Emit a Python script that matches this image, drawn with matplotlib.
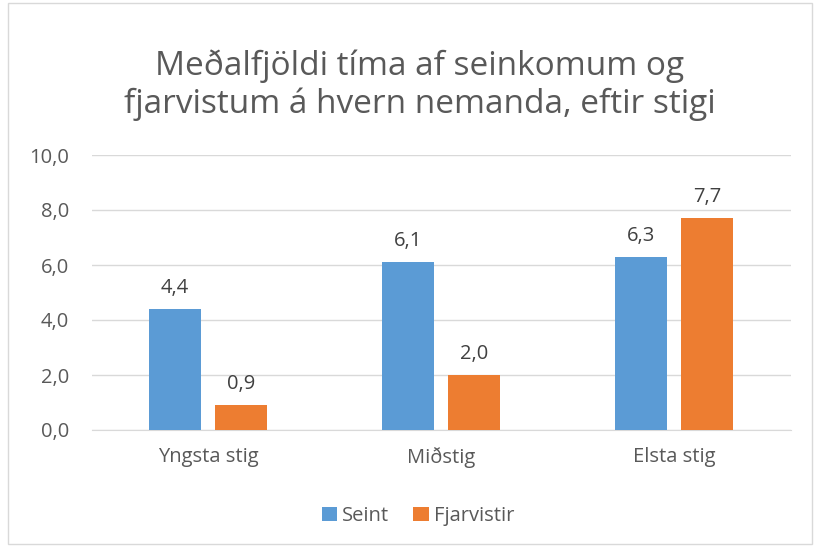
import matplotlib
matplotlib.use("Agg")
import matplotlib.pyplot as plt
import numpy as np
from matplotlib.patches import Rectangle

categories = ["Yngsta stig", "Miðstig", "Elsta stig"]
seint = [4.4, 6.1, 6.3]
fjarvistir = [0.9, 2.0, 7.7]
series_names = ["Seint", "Fjarvistir"]
yticks = [0, 2, 4, 6, 8, 10]

plt.rcParams['font.family'] = ['Open Sans', 'DejaVu Sans']
txt = '#595959'
blue = '#5B9BD5'
orange = '#ED7D31'
fs = 14.5

W, H = 817, 548
fig = plt.figure(figsize=(W/100, H/100), dpi=100)
fig.patches.append(Rectangle((8/W, 4/H), 804/W, 541/H, transform=fig.transFigure,
                             fill=False, edgecolor='#D9D9D9', linewidth=1))

ax = fig.add_axes([91.5/W, 1 - 430/H, 699/W, 275/H])
x = np.arange(len(categories))
bw = 0.223
off = 0.142
b1 = ax.bar(x - off, seint, bw, color=blue, label=series_names[0], zorder=3)
b2 = ax.bar(x + off, fjarvistir, bw, color=orange, label=series_names[1], zorder=3)
for bars, vals in ((b1, seint), (b2, fjarvistir)):
    for r, v in zip(bars, vals):
        ax.annotate(f"{v:.1f}".replace('.', ','), (r.get_x() + r.get_width()/2, v),
                    xytext=(0, 8), textcoords='offset points', ha='center', va='bottom',
                    fontsize=fs, color='#404040')

ax.set_xlim(-0.5, 2.5)
ax.set_ylim(0, 10)
ax.set_yticks(yticks)
ax.set_yticklabels([f"{v:.1f}".replace('.', ',') for v in yticks], fontsize=fs, color=txt)
ax.set_xticks(x)
ax.set_xticklabels(categories, fontsize=fs, color=txt)
ax.tick_params(axis='both', length=0)
ax.tick_params(axis='x', pad=12)
ax.tick_params(axis='y', pad=16)
ax.grid(axis='y', color='#D9D9D9', linewidth=1, zorder=0)
for s in ['top', 'right', 'left']:
    ax.spines[s].set_visible(False)
ax.spines['bottom'].set_color('#D9D9D9')

fig.text(420/W, 1 - 85/H, "Meðalfjöldi tíma af seinkomum og\nfjarvistum á hvern nemanda, eftir stigi",
         ha='center', va='center', fontsize=24, color=txt, linespacing=1.2)

fig.legend(handles=[b1, b2], labels=series_names, loc='center', bbox_to_anchor=(418/W, 1 - 516/H),
           ncol=2, frameon=False, fontsize=fs, labelcolor=txt, handlelength=0.75, handleheight=0.75,
           handletextpad=0.25, columnspacing=1.2)

fig.savefig("out.png", dpi=100)
